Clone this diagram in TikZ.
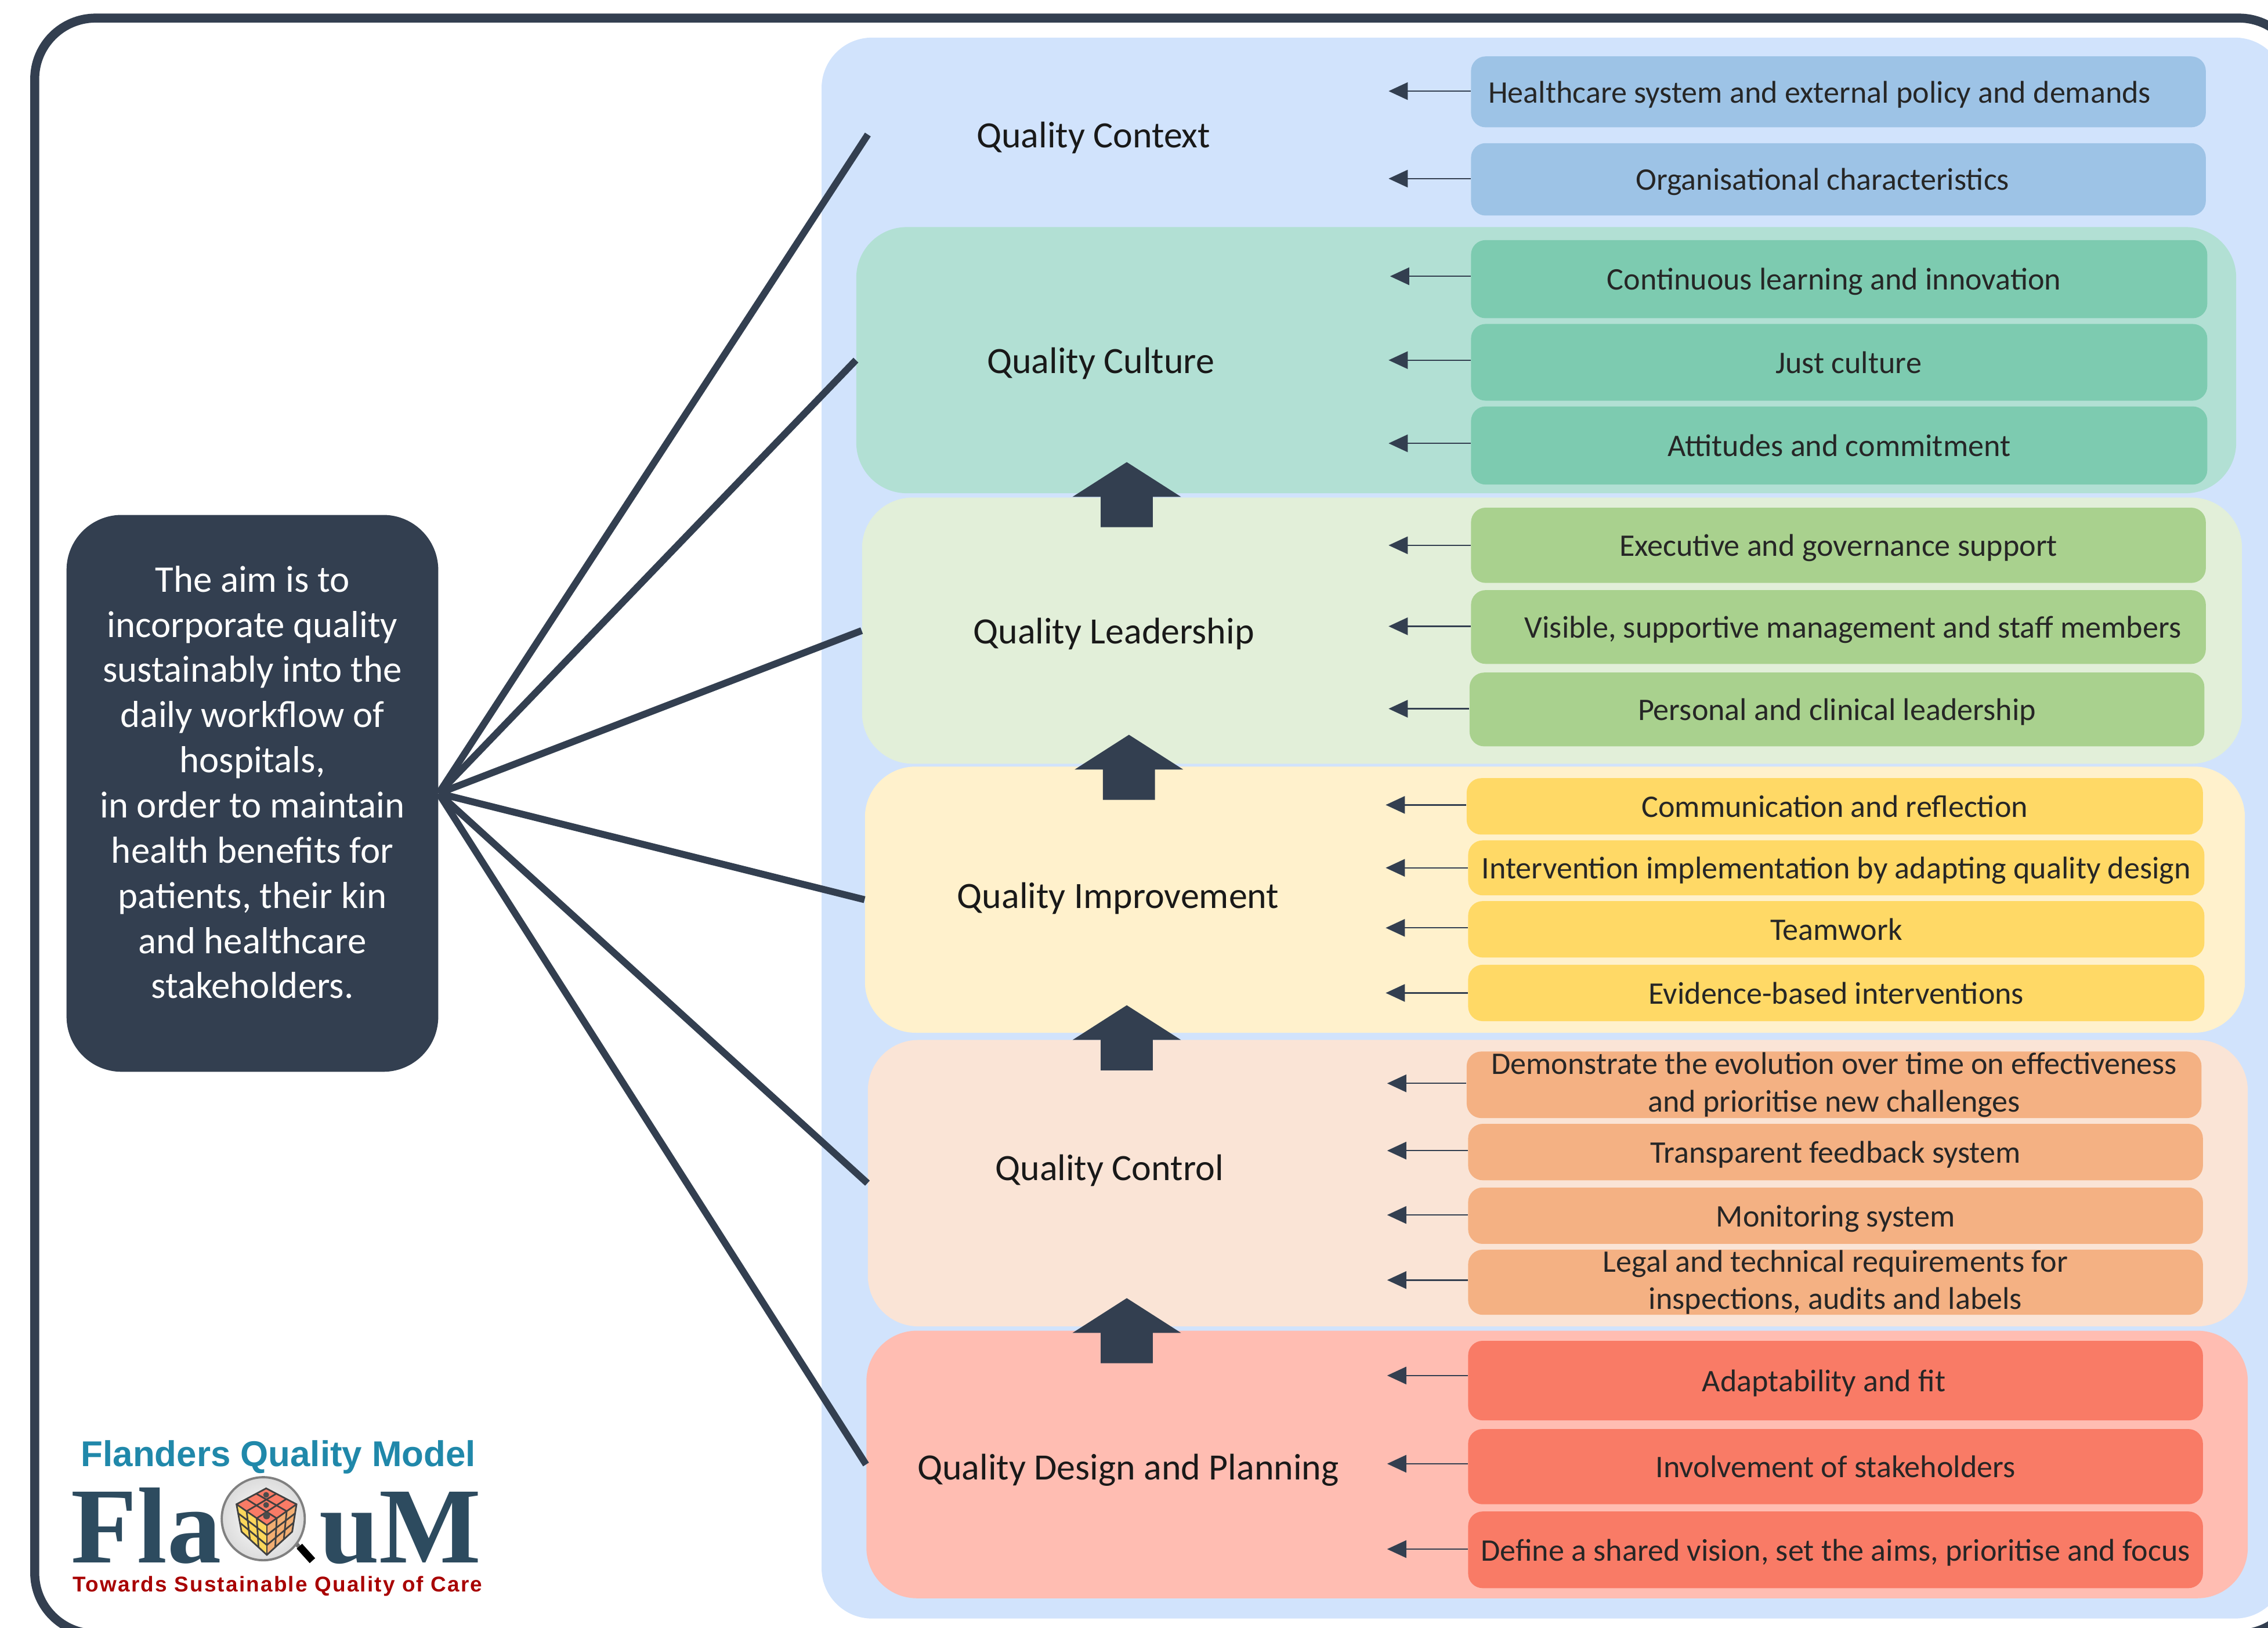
\documentclass[tikz,border=0pt]{standalone}
\usepackage{fontspec}
\setmainfont{Carlito}
\newfontfamily\logosans{Liberation Sans}
\newfontfamily\logospaced{Liberation Sans}[LetterSpace=6]
\newfontfamily\logoserif{Liberation Serif}
\usepackage{tikz}
\usetikzlibrary{arrows.meta}
\usetikzlibrary{fit}
\definecolor{navy}{HTML}{333F50}
\definecolor{contextband}{HTML}{D1E3FC}
\definecolor{contextitem}{HTML}{9DC3E6}
\definecolor{cultureband}{HTML}{B2E0D4}
\definecolor{cultureitem}{HTML}{7DCBB0}
\definecolor{leaderband}{HTML}{E2EFD9}
\definecolor{leaderitem}{HTML}{A9D18E}
\definecolor{improveband}{HTML}{FFF1CC}
\definecolor{improveitem}{HTML}{FFD966}
\definecolor{controlband}{HTML}{FAE4D6}
\definecolor{controlitem}{HTML}{F4B183}
\definecolor{designband}{HTML}{FFBDB2}
\definecolor{designitem}{HTML}{F97B66}
\definecolor{logoteal}{HTML}{2088AA}
\definecolor{logoslate}{HTML}{2D4B5F}
\definecolor{logored}{HTML}{A80000}
\definecolor{cubeleft}{HTML}{FBD75B}
\definecolor{cuberight}{HTML}{F2AE72}
\tikzset{
    bandbox/.style={rounded corners=0.87cm, inner sep=0pt},
    itemsize/.style 2 args={minimum width=#1*0.02493cm, minimum height=#2*0.02493cm},
    itembase/.style={rounded corners=0.25cm, inner sep=0pt, text=black!85, font=\fontsize{15.4}{18.4}\selectfont},
    itembox/.style={itembase, text height=13.2pt, text depth=2.5pt},
    twolinebox/.style={itembase, align=center},
    bandlabel/.style={inner sep=0pt, text=black!90, text height=14pt, text depth=2.5pt, font=\fontsize{18.2}{22}\selectfont},
    pointer/.style={draw=navy, line width=0.7pt, -{Triangle[length=3.3mm, width=3mm]}},
    spoke/.style={draw=navy, line width=3.4pt},
    cubeline/.style={draw=black!75, line width=0.8pt},
    uparrow/.pic={\fill[navy] (0,0) -- (37.5,24) -- (18,24) -- (18,45) -- (-18,45) -- (-18,24) -- (-37.5,24) -- cycle;}
}

\begin{document}
\begin{tikzpicture}[x=0.02493cm, y=-0.02493cm]
\useasboundingbox (0,0) rectangle (1568,1125.2);
\clip (0,0) rectangle (1568,1125.2);
\draw[navy, line width=0.155cm, rounded corners=1.05cm] (24,12.5) rectangle (1590,1129.6);

% bands
\node[bandbox, fill=contextband, fit={(568,26) (1580,1119)}] (context) {};
\node[bandbox, fill=cultureband, fit={(592,157) (1546,341)}] (culture) {};
\node[bandbox, fill=leaderband, fit={(596,344) (1550,528)}] (leader) {};
\node[bandbox, fill=improveband, fit={(598,530) (1552,714)}] (improve) {};
\node[bandbox, fill=controlband, fit={(600,719) (1554,917)}] (control) {};
\node[bandbox, fill=designband, fit={(599,920) (1554,1105)}] (design) {};

\node[bandlabel] (contextname) at (756,94) {Quality Context};
\node[bandlabel] (culturename) at (761,250) {Quality Culture};
\node[bandlabel] (leadername) at (770,437) {Quality Leadership};
\node[bandlabel] (improvename) at (773,620) {Quality Improvement};
\node[bandlabel] (controlname) at (767,808) {Quality Control};
\node[bandlabel] (designname) at (780,1015) {Quality Design and Planning};

% items
\node[itembox, fill=contextitem, itemsize={508}{49}] (ctxa) at (1271,63.5) {Healthcare system and external policy and demands\rule{18.4pt}{0pt}};
\node[itembox, fill=contextitem, itemsize={508}{50}] (ctxb) at (1271,124) {Organisational characteristics\rule{15.6pt}{0pt}};
\node[itembox, fill=cultureitem, itemsize={509}{54}] (cula) at (1271.5,193) {Continuous learning and innovation\rule{5pt}{0pt}};
\node[itembox, fill=cultureitem, itemsize={509}{53}] (culb) at (1271.5,250.5) {\rule{9.2pt}{0pt}Just culture};
\node[itembox, fill=cultureitem, itemsize={509}{54}] (culc) at (1271.5,308) {Attitudes and commitment};
\node[itembox, fill=leaderitem, itemsize={508}{52}] (leda) at (1271,377) {Executive and governance support};
\node[itembox, fill=leaderitem, itemsize={508}{51}] (ledb) at (1271,433.5) {\rule{14.2pt}{0pt}Visible, supportive management and staff members};
\node[itembox, fill=leaderitem, itemsize={508}{51}] (ledc) at (1270,490.5) {Personal and clinical leadership};
\node[itembox, fill=improveitem, itemsize={509}{39}] (impa) at (1268.5,557.5) {Communication and reflection};
\node[itembox, fill=improveitem, itemsize={509}{38}] (impb) at (1269.5,600) {Intervention implementation by adapting quality design};
\node[itembox, fill=improveitem, itemsize={509}{39}] (impc) at (1269.5,642.5) {Teamwork};
\node[itembox, fill=improveitem, itemsize={509}{39}] (impd) at (1269.5,686.5) {Evidence-based interventions};
\node[twolinebox, fill=controlitem, itemsize={508}{46}] (cona) at (1268,750) {Demonstrate the evolution over time on effectiveness\\and prioritise new challenges};
\node[itembox, fill=controlitem, itemsize={508}{39}] (conb) at (1269,796.5) {Transparent feedback system};
\node[itembox, fill=controlitem, itemsize={508}{39}] (conc) at (1269,840.5) {Monitoring system};
\node[twolinebox, fill=controlitem, itemsize={508}{45}] (cond) at (1269,886.5) {Legal and technical requirements for\\inspections, audits and labels};
\node[itembox, fill=designitem, itemsize={508}{55}] (desa) at (1269,954.5) {Adaptability and fit\rule{11.3pt}{0pt}};
\node[itembox, fill=designitem, itemsize={508}{52}] (desb) at (1269,1014) {Involvement of stakeholders};
\node[itembox, fill=designitem, itemsize={508}{53}] (desc) at (1269,1071.5) {Define a shared vision, set the aims, prioritise and focus};

% small arrows
\coordinate (tipa) at (960,63);
\coordinate (tipb) at (960,123.5);
\coordinate (tipc) at (961,191);
\coordinate (tipd) at (960,249);
\coordinate (tipe) at (960,306.5);
\coordinate (tipf) at (960,377);
\coordinate (tipg) at (960,433);
\coordinate (tiph) at (960,490);
\coordinate (tipi) at (958,556.5);
\coordinate (tipj) at (958,600);
\coordinate (tipk) at (958,641.5);
\coordinate (tipl) at (958,686.5);
\coordinate (tipm) at (959,749);
\coordinate (tipn) at (959,795.5);
\coordinate (tipo) at (959,840);
\coordinate (tipp) at (959,885);
\coordinate (tipq) at (959,951);
\coordinate (tipr) at (959,1012);
\coordinate (tips) at (959,1071);
\draw[pointer] (ctxa.west |- tipa) -- (tipa);
\draw[pointer] (ctxb.west |- tipb) -- (tipb);
\draw[pointer] (cula.west |- tipc) -- (tipc);
\draw[pointer] (culb.west |- tipd) -- (tipd);
\draw[pointer] (culc.west |- tipe) -- (tipe);
\draw[pointer] (leda.west |- tipf) -- (tipf);
\draw[pointer] (ledb.west |- tipg) -- (tipg);
\draw[pointer] (ledc.west |- tiph) -- (tiph);
\draw[pointer] (impa.west |- tipi) -- (tipi);
\draw[pointer] (impb.west |- tipj) -- (tipj);
\draw[pointer] (impc.west |- tipk) -- (tipk);
\draw[pointer] (impd.west |- tipl) -- (tipl);
\draw[pointer] (cona.west |- tipm) -- (tipm);
\draw[pointer] (conb.west |- tipn) -- (tipn);
\draw[pointer] (conc.west |- tipo) -- (tipo);
\draw[pointer] (cond.west |- tipp) -- (tipp);
\draw[pointer] (desa.west |- tipq) -- (tipq);
\draw[pointer] (desb.west |- tipr) -- (tipr);
\draw[pointer] (desc.west |- tips) -- (tips);

% block arrows
\pic at (779,319.5) {uparrow};
\pic at (780.5,508) {uparrow};
\pic at (779,695) {uparrow};
\pic at (779,897.5) {uparrow};

% aim
\node[fill=navy, rounded corners=0.95cm, inner sep=0pt, text=white, align=center, font=\fontsize{18.45}{22.15}\selectfont, itemsize={257}{385}] (aim) at (174.5,548.5) {The aim is to\\incorporate quality\\sustainably into the\\daily workflow of\\hospitals,\\in order to maintain\\health benefits for\\patients, their kin\\and healthcare\\stakeholders.\rule[-11pt]{0pt}{11pt}};
\coordinate (contextend) at (600,93);
\draw[spoke] (aim.east) -- (contextend);
\draw[spoke] (aim.east) -- (culture.west);
\draw[spoke] (aim.east) -- (leader.west);
\draw[spoke] (aim.east) -- (improve.west);
\draw[spoke] (aim.east) -- (control.west);
\draw[spoke] (aim.east) -- (design.west);

% logo
\node[inner sep=0pt, text=logoteal, font=\logosans\bfseries\fontsize{17.6}{20}\selectfont] (logotitle) at (192.5,1007.5) {Flanders Quality Model};
\node[inner sep=0pt, anchor=base west, text=logoslate, font=\logoserif\bfseries\fontsize{53}{60}\selectfont] (logofla) at (49,1080.5) {Fla};
\node[inner sep=0pt, anchor=base east, text=logoslate, font=\logoserif\bfseries\fontsize{53}{60}\selectfont] (logoum) at (333,1080.5) {uM};
\node[inner sep=0pt, text=logored, font=\logospaced\bfseries\fontsize{10.5}{12}\selectfont] (logotag) at (192,1096.5) {Towards Sustainable Quality of Care};
\draw[black!55, line width=2pt] (203,1065) -- (208,1071);
\draw[black, line width=3.6pt] (207,1069) -- (216,1079);
\shade[draw=gray, line width=1.1pt, inner color=white, outer color=black!14] (182,1050) circle (28.7);
\fill[designitem] (184,1029) -- (205,1040) -- (184.5,1054.5) -- (163.5,1040) -- cycle;
\fill[cubeleft] (163.5,1040) -- (184.5,1054.5) -- (184.5,1075) -- (167,1059) -- cycle;
\fill[cuberight] (205,1040) -- (184.5,1054.5) -- (184.5,1075) -- (202,1059) -- cycle;
\draw[cubeline] (184,1029) -- (205,1040) -- (202,1059) -- (184.5,1075) -- (167,1059) -- (163.5,1040) -- cycle;
\draw[cubeline] (163.5,1040) -- (184.5,1054.5) -- (205,1040);
\draw[cubeline] (184.5,1054.5) -- (184.5,1075);
\draw[cubeline] (177.2,1032.7) -- (198.2,1044.8);
\draw[cubeline] (170.3,1036.3) -- (191.3,1049.7);
\draw[cubeline] (191,1032.7) -- (170.5,1044.8);
\draw[cubeline] (198,1036.3) -- (177.5,1049.7);
\draw[cubeline] (170.5,1044.8) -- (172.8,1064.3);
\draw[cubeline] (177.5,1049.7) -- (178.7,1069.7);
\draw[cubeline] (164.7,1046.3) -- (184.5,1061.3);
\draw[cubeline] (165.8,1052.7) -- (184.5,1068.2);
\draw[cubeline] (191.3,1049.7) -- (190.3,1069.7);
\draw[cubeline] (198.2,1044.8) -- (196.2,1064.3);
\draw[cubeline] (204,1046.3) -- (184.5,1061.3);
\draw[cubeline] (203,1052.7) -- (184.5,1068.2);
\fill[black!70] (184,1033.5) circle (2) (184,1040.5) circle (2) (184.3,1048) circle (2.4);
\end{tikzpicture}
\end{document}
